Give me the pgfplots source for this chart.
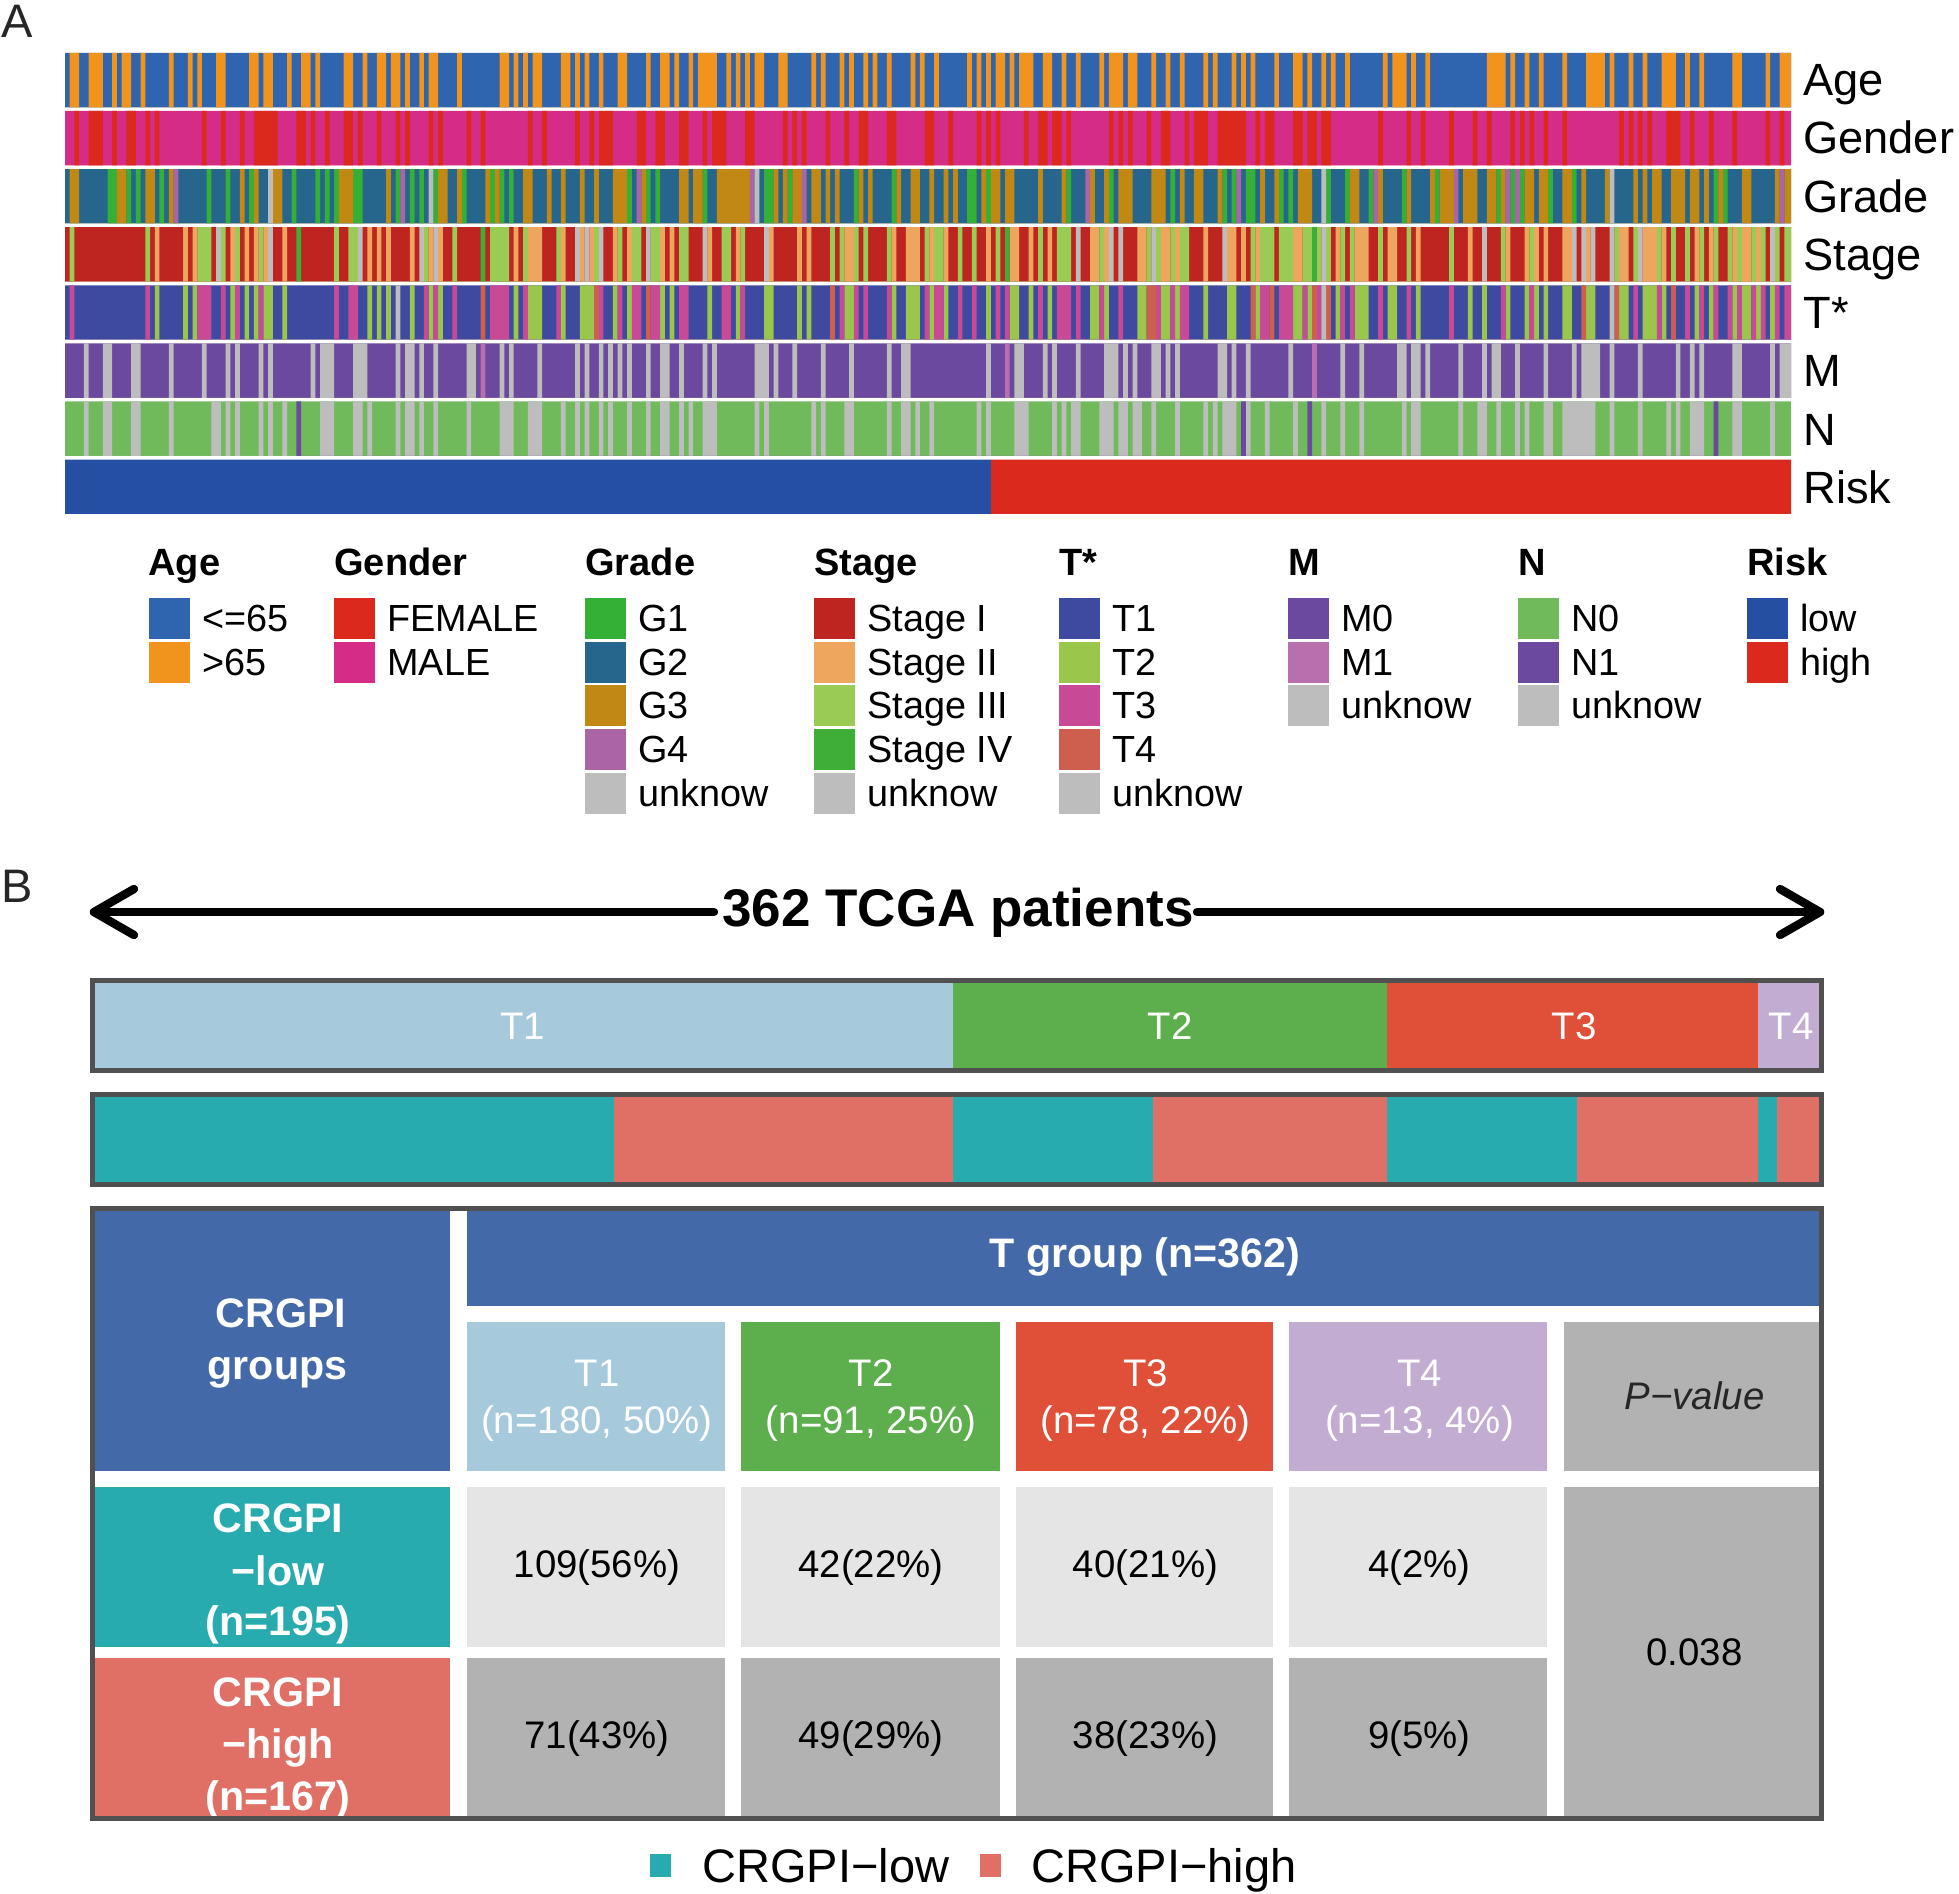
\documentclass[border=0pt]{standalone}
\usepackage{fontspec}
\setmainfont{Liberation Sans}
\usepackage{pgfplots}
\pgfplotsset{compat=1.18}
\usetikzlibrary{calc}

% panel A colours
\definecolor{ageA}{HTML}{2F64AE}\definecolor{ageB}{HTML}{F1941D}
\definecolor{female}{HTML}{DB291E}\definecolor{male}{HTML}{D52C88}
\definecolor{gA}{HTML}{33B035}\definecolor{gB}{HTML}{26668C}
\definecolor{gC}{HTML}{C28814}\definecolor{gD}{HTML}{AB65A6}
\definecolor{sA}{HTML}{BF2520}\definecolor{sB}{HTML}{EEA55E}
\definecolor{sC}{HTML}{9ACB55}\definecolor{sD}{HTML}{3EAE36}
\definecolor{tA}{HTML}{3E49A0}\definecolor{tB}{HTML}{9AC64C}
\definecolor{tC}{HTML}{C84A96}\definecolor{tD}{HTML}{CE5F4F}
\definecolor{mA}{HTML}{6A499E}\definecolor{mB}{HTML}{B86FAD}
\definecolor{nA}{HTML}{70BA5B}\definecolor{unk}{HTML}{BDBDBD}
\definecolor{riskL}{HTML}{254FA2}\definecolor{riskH}{HTML}{DB291E}
% panel B colours
\definecolor{bA}{HTML}{A6CADC}\definecolor{bB}{HTML}{5DAE4C}
\definecolor{bC}{HTML}{E05038}\definecolor{bD}{HTML}{C3ACD2}
\definecolor{low}{HTML}{27ABAE}\definecolor{high}{HTML}{E07066}
\definecolor{bord}{HTML}{505050}\definecolor{head}{HTML}{4369A9}
\definecolor{lgrey}{HTML}{E5E5E5}\definecolor{dgrey}{HTML}{B2B2B2}

% runs of patients s/e of one category in a track
\newcommand{\runs}[2]{%
  \gdef\pts{}%
  \foreach \st/\en in {#2} {\xdef\pts{\pts(\st,1)(\en,0)}}%
  \edef\tmp{\noexpand\addplot[const plot,fill=#1,draw=none] coordinates {\pts} \noexpand\closedcycle;}%
  \tmp}

\pgfplotsset{
  track/.style={at={(32.5pt,#1)},anchor=south west,scale only axis,hide axis,
    width=863pt,height=27.2pt,xmin=0,xmax=365.4,ymin=0,ymax=1},
  onebar/.style={at={(47.5pt,#1)},anchor=south west,scale only axis,hide axis,
    width=862.6pt,height=42.5pt,xmin=0,xmax=362,ymin=-0.5,ymax=0.5,
    xbar stacked,bar width=42.5pt},
}

% filled box in page pixels
\newcommand{\cell}[5]{\addplot[fill=#5,draw=none] coordinates {(#1,#2)(#3,#2)(#3,#4)(#1,#4)} -- cycle;}
\newcommand{\frm}[4]{\addplot[draw=bord,line width=2.5pt,line join=miter] coordinates {(#1,#2)(#3,#2)(#3,#4)(#1,#4)} -- cycle;}
% text: size, anchor, colour, x, y, string
\newcommand{\tx}[6]{\node[anchor=#2,text=#3,inner sep=0pt,font=\fontsize{#1}{#1}\selectfont] at (axis cs:#4,#5) {#6};}
\newcommand{\legitem}[4]{\cell{#1}{#2-20.5}{#1+41}{#2+20.5}{#3}\tx{18.9}{base west}{black}{#1+53}{#2+13.5}{#4}}

\begin{document}
\begin{tikzpicture}
\path[use as bounding box] (0,0) rectangle (979.5pt,947pt);

% --- panel A tracks
\begin{axis}[track=893.35pt]
\runs{ageA}{0/365.4}
\runs{ageB}{1/3,5/8,10/11,12/14,16/17,22/23,26/27,28/29,32/34,39/41,42/44,47/48,50/52,53/54,59/61,63/64,66/68,69/71,72/73,75/76,77/79,83/84,92/94,95/96,97/98,99/101,105/107,108/109,110/111,113/114,117/119,123/124,126/128,129/130,132/133,134/138,140/141,142/143,144/145,146/148,151/153,158/159,160/161,164/165,166/167,169/170,171/172,174/175,179/180,181/182,184/185,191/192,193/194,195/196,197/199,200/201,202/205,207/209,211/212,214/215,219/220,221/224,225/227,230/231,233/234,236/237,241/242,243/244,247/248,249/250,251/252,256/257,260/262,263/264,266/267,268/269,271/272,279/280,281/284,285/286,288/289,301/305,306/307,309/310,312/313,317/318,322/326,327/328,331/332,334/335,338/341,343/344,346/347,353/355,360/361,363/365.4}
\end{axis}

\begin{axis}[track=864.3pt]
\runs{male}{0/365.4}
\runs{female}{2/3,5/8,10/11,13/15,17/18,19/20,29/30,33/34,37/38,40/45,49/51,52/53,55/56,59/61,62/63,66/67,70/71,72/73,77/78,79/80,85/86,88/89,98/99,101/102,108/109,111/112,113/116,121/123,125/127,130/132,135/136,137/140,144/146,152/153,154/155,156/157,161/162,165/166,168/170,174/176,182/184,187/188,193/194,195/196,197/198,203/204,206/208,209/211,212/213,221/222,223/224,225/226,229/230,232/234,237/238,239/242,244/250,252/253,254/256,260/262,263/265,266/268,278/279,284/285,287/288,293/294,298/299,301/302,306/307,308/309,310/311,313/314,317/318,329/330,331/332,333/334,335/336,339/342,344/345,348/349,353/354,360/361,363/364}
\end{axis}

\begin{axis}[track=835.25pt]
\runs{gB}{0/365.4}
\runs{gA}{9/11,13/14,15/16,20/21,30/31,34/35,39/40,48/49,53/54,55/56,57/58,61/63,70/71,73/74,75/76,78/79,84/85,90/91,92/93,94/95,119/120,123/124,125/126,135/136,148/150,153/154,167/168,175/176,191/193,195/196,212/213,221/222,234/235,245/246,247/248,250/252,257/258,259/260,267/268,271/272,276/277,283/284,290/291,303/304,306/307,308/309,314/315,319/320,349/350,351/352}
\runs{gC}{1/3,11/13,17/19,22/23,37/38,40/41,44/46,58/61,68/69,79/81,83/84,89/90,91/92,97/99,102/103,105/106,109/110,112/113,116/119,122/123,130/132,133/135,138/145,150/151,152/153,154/156,158/160,161/162,163/164,168/169,170/171,176/177,179/181,183/184,186/187,188/189,194/195,196/198,199/201,206/207,211/212,217/218,220/221,223/226,230/233,236/237,239/241,244/245,253/254,256/257,261/264,272/274,278/279,284/285,289/290,291/294,296/299,301/303,304/305,309/311,312/314,317/319,321/322,326/327,332/333,334/335,336/338,340/343,344/346,347/348,350/351,355/357,362/363,364/365.4}
\runs{gD}{23/24,71/72,121/122,145/146,156/157,216/217,248/249,277/278,294/295,305/306,307/308,363/364}
\runs{unk}{43/44,77/78,146/147,266/267,327/328}
\end{axis}

\begin{axis}[track=806.2pt]
\runs{sA}{0/365.4}
\runs{sB}{19/20,25/26,27/28,35/36,38/39,40/41,42/43,46/47,64/65,66/67,68/69,73/74,77/78,79/80,95/96,98/101,105/106,109/110,111/112,116/117,119/120,126/127,128/129,136/137,142/143,149/150,155/156,157/158,165/167,175/176,178/181,183/184,186/187,195/196,200/202,204/205,208/209,217/219,220/221,227/229,232/234,235/236,241/242,246/248,249/250,252/253,260/262,269/270,273/276,280/282,286/287,297/298,305/306,309/310,311/312,313/314,317/319,322/323,329/331,334/337,338/339,345/346,348/349,353/354,355/357,358/359}
\runs{sC}{1/2,17/18,28/31,33/34,36/37,41/42,57/58,60/62,76/77,82/83,90/94,97/98,104/105,112/113,117/118,120/122,124/126,130/132,139/141,143/144,162/163,164/165,167/168,169/170,174/175,182/183,184/186,189/190,192/193,197/198,206/207,210/213,219/220,229/230,231/232,234/235,236/238,251/252,253/256,257/260,262/264,265/266,267/268,270/271,272/273,278/279,284/285,293/294,304/305,310/311,328/329,332/333,337/338,340/341,343/344,346/347,349/350,352/353,354/355,357/358,359/360,362/363,364/365.4}
\runs{sD}{49/50,88/89,199/200,264/265}
\runs{unk}{32/33,43/44,62/63,75/76,78/79,108/109,110/111,113/114,123/124,135/136,148/149,214/215,221/222,223/224,230/231,245/246,266/267,300/301,319/320,321/322,323/324,327/328,333/334,361/362}
\end{axis}

\begin{axis}[track=777.15pt]
\runs{tA}{0/365.4}
\runs{tB}{19/20,25/26,27/28,35/36,38/39,40/41,42/44,46/47,64/65,66/67,68/69,73/74,77/78,79/80,95/96,98/101,105/106,109/112,116/117,119/120,126/127,128/129,136/137,142/143,148/150,155/156,157/158,165/167,175/176,178/181,183/184,186/187,195/196,200/202,204/205,208/209,217/219,220/221,227/229,232/234,235/236,241/242,246/248,252/253,260/262,263/264,269/270,273/276,280/282,286/287,297/298,300/301,305/306,309/310,311/312,313/314,317/319,322/324,329/331,334/337,338/339,345/346,348/349,353/354,355/357,358/359,361/362}
\runs{tC}{1/2,17/18,28/31,33/34,36/37,41/42,57/58,60/62,76/77,78/79,82/83,90/94,97/98,104/105,113/114,117/118,120/122,124/126,130/132,139/141,143/144,164/165,167/168,169/170,174/175,182/183,184/186,189/190,192/193,197/198,199/200,206/207,210/213,214/215,219/220,223/224,231/232,234/235,236/238,253/255,257/260,262/263,265/266,270/271,272/273,278/279,284/285,293/294,304/305,310/311,332/333,337/338,343/344,346/347,349/350,352/353,354/355,357/358,359/360,362/363,364/365.4}
\runs{tD}{88/89,112/113,123/124,162/163,229/231,251/252,255/256,264/265,267/268,321/322,328/329,340/341}
\runs{unk}{70/71,266/267,327/328}
\end{axis}

\begin{axis}[track=748.1pt]
\runs{mA}{0/365.4}
\runs{unk}{4/5,8/10,14/16,22/23,29/30,34/35,36/37,41/42,43/44,52/53,54/57,61/64,70/71,72/74,75/76,78/79,85/87,92/93,94/95,100/101,108/109,110/111,113/114,115/116,117/118,119/120,123/124,126/128,130/131,135/136,137/138,146/149,150/151,154/155,160/161,166/167,174/175,177/179,195/196,201/203,207/208,209/210,214/215,220/223,224/225,226/227,230/232,233/234,235/236,244/246,247/248,250/251,259/260,270/271,274/275,282/284,285/287,288/289,295/296,300/301,302/304,307/308,313/314,319/320,321/325,327/328,333/334,341/342,344/345,346/347,353/355,361/362,363/365.4}
\runs{mB}{88/89,199/200,264/265}
\end{axis}

\begin{axis}[track=719.05pt]
\runs{nA}{0/365.4}
\runs{unk}{4/5,8/10,14/16,22/23,31/33,34/35,36/37,41/42,43/44,46/47,54/57,61/63,64/65,70/71,72/74,75/76,78/79,85/86,92/95,98/101,105/106,108/109,110/111,113/114,115/116,119/120,123/124,126/128,130/131,132/133,135/138,146/147,148/149,158/159,160/161,165/167,174/175,177/179,180/181,183/184,193/194,195/196,201/204,209/210,211/212,213/215,219/222,223/225,226/228,230/231,235/236,241/242,243/244,245/248,250/251,254/255,260/261,266/267,270/271,274/275,283/284,285/287,295/296,299/301,303/304,307/308,309/310,313/315,317/324,327/328,333/334,339/340,341/342,344/347,353/355,361/362}
\runs{mA}{49/50,249/250,263/264,349/350}
\end{axis}

\begin{axis}[track=690pt]
\runs{riskL}{0/196}
\runs{riskH}{196/365.4}
\end{axis}

% --- panel B: the 362 patients by T stage, then split by CRGPI group
\begin{axis}[onebar=413pt]
\addplot[fill=bA,draw=none] coordinates {(180,0)};
\addplot[fill=bB,draw=none] coordinates {(91,0)};
\addplot[fill=bC,draw=none] coordinates {(78,0)};
\addplot[fill=bD,draw=none] coordinates {(13,0)};
\end{axis}

\begin{axis}[onebar=356pt]
\addplot[fill=low,draw=none] coordinates {(109,0)};
\addplot[fill=high,draw=none] coordinates {(71,0)};
\addplot[fill=low,draw=none] coordinates {(42,0)};
\addplot[fill=high,draw=none] coordinates {(49,0)};
\addplot[fill=low,draw=none] coordinates {(40,0)};
\addplot[fill=high,draw=none] coordinates {(38,0)};
\addplot[fill=low,draw=none] coordinates {(4,0)};
\addplot[fill=high,draw=none] coordinates {(9,0)};
\end{axis}

% --- everything else, in page pixels
\begin{axis}[at={(0,0)},anchor=south west,scale only axis,hide axis,clip=false,
  width=979.5pt,height=947pt,xmin=0,xmax=1959,ymin=0,ymax=1894,y dir=reverse]

\tx{23.5}{base}{black!85}{17}{38}{A}
\tx{23.5}{base}{black!85}{17}{902}{B}

% track labels
\tx{22.6}{base west}{black}{1803}{96}{Age}
\tx{22.6}{base west}{black}{1803}{154}{Gender}
\tx{22.6}{base west}{black}{1803}{212.5}{Grade}
\tx{22.6}{base west}{black}{1803}{270.5}{Stage}
\tx{22.6}{base west}{black}{1803}{328.5}{T*}
\tx{22.6}{base west}{black}{1803}{386.5}{M}
\tx{22.6}{base west}{black}{1803}{445}{N}
\tx{22.6}{base west}{black}{1803}{503}{Risk}

% legends of panel A
\tx{19}{base west}{black}{148}{575}{\bfseries Age}
\legitem{149}{618}{ageA}{<=65}
\legitem{149}{662}{ageB}{>65}
\tx{19}{base west}{black}{334}{575}{\bfseries Gender}
\legitem{334}{618}{female}{FEMALE}
\legitem{334}{662}{male}{MALE}
\tx{19}{base west}{black}{585}{575}{\bfseries Grade}
\legitem{585}{618}{gA}{G1}
\legitem{585}{662}{gB}{G2}
\legitem{585}{705}{gC}{G3}
\legitem{585}{749}{gD}{G4}
\legitem{585}{793}{unk}{unknow}
\tx{19}{base west}{black}{814}{575}{\bfseries Stage}
\legitem{814}{618}{sA}{Stage I}
\legitem{814}{662}{sB}{Stage II}
\legitem{814}{705}{sC}{Stage III}
\legitem{814}{749}{sD}{Stage IV}
\legitem{814}{793}{unk}{unknow}
\tx{19}{base west}{black}{1059}{575}{\bfseries T*}
\legitem{1059}{618}{tA}{T1}
\legitem{1059}{662}{tB}{T2}
\legitem{1059}{705}{tC}{T3}
\legitem{1059}{749}{tD}{T4}
\legitem{1059}{793}{unk}{unknow}
\tx{19}{base west}{black}{1288}{575}{\bfseries M}
\legitem{1288}{618}{mA}{M0}
\legitem{1288}{662}{mB}{M1}
\legitem{1288}{705}{unk}{unknow}
\tx{19}{base west}{black}{1518}{575}{\bfseries N}
\legitem{1518}{618}{nA}{N0}
\legitem{1518}{662}{mA}{N1}
\legitem{1518}{705}{unk}{unknow}
\tx{19}{base west}{black}{1747}{575}{\bfseries Risk}
\legitem{1747}{618}{riskL}{low}
\legitem{1747}{662}{riskH}{high}

% arrow with title
\addplot[black,line width=4.2pt,line cap=round,line join=round] coordinates {(714,912)(94,912)};
\addplot[black,line width=4.2pt,line cap=round,line join=round] coordinates {(134,889)(94,912)(134,935)};
\addplot[black,line width=4.2pt,line cap=round,line join=round] coordinates {(1197,912)(1820,912)};
\addplot[black,line width=4.2pt,line cap=round,line join=round] coordinates {(1780,889)(1820,912)(1780,935)};
\tx{26.5}{base}{black}{958}{926}{\bfseries 362 TCGA patients}

% labels of the top bar
\tx{19.2}{base}{white}{522.5}{1039}{T1}
\tx{19.2}{base}{white}{1170}{1039}{T2}
\tx{19.2}{base}{white}{1574}{1039}{T3}
\tx{19.2}{base}{white}{1791}{1039}{T4}

% table
\cell{95}{1211}{450}{1470.5}{head}
\cell{467}{1211}{1819}{1306}{head}
\cell{467}{1322}{725}{1470.5}{bA}
\cell{741}{1322}{999.5}{1470.5}{bB}
\cell{1016}{1322}{1273}{1470.5}{bC}
\cell{1289}{1322}{1547}{1470.5}{bD}
\cell{1564}{1322}{1819}{1470.5}{dgrey}
\cell{95}{1487}{450}{1647}{low}
\cell{95}{1658}{450}{1815.5}{high}
\cell{467}{1487}{725}{1647}{lgrey}
\cell{741}{1487}{999.5}{1647}{lgrey}
\cell{1016}{1487}{1273}{1647}{lgrey}
\cell{1289}{1487}{1547}{1647}{lgrey}
\cell{467}{1658}{725}{1815.5}{dgrey}
\cell{741}{1658}{999.5}{1815.5}{dgrey}
\cell{1016}{1658}{1273}{1815.5}{dgrey}
\cell{1289}{1658}{1547}{1815.5}{dgrey}
\cell{1564}{1487}{1819}{1815.5}{dgrey}

\tx{20.6}{base}{white}{1145}{1267}{\bfseries T group (n=362)}
\tx{20.6}{base}{white}{281}{1327}{\bfseries CRGPI}
\tx{20.6}{base}{white}{277.5}{1379}{\bfseries groups}
\tx{20.6}{base}{white}{278}{1532}{\bfseries CRGPI}
\tx{20.6}{base}{white}{278}{1585}{\bfseries −low}
\tx{20.6}{base}{white}{278}{1635}{\bfseries (n=195)}
\tx{20.6}{base}{white}{278}{1706}{\bfseries CRGPI}
\tx{20.6}{base}{white}{278}{1758}{\bfseries −high}
\tx{20.6}{base}{white}{278}{1810}{\bfseries (n=167)}

\tx{19.2}{base}{white}{597}{1386}{T1}
\tx{19.2}{base}{white}{597}{1433.5}{(n=180, 50\%)}
\tx{19.2}{base}{white}{871}{1386}{T2}
\tx{19.2}{base}{white}{871}{1433.5}{(n=91, 25\%)}
\tx{19.2}{base}{white}{1145.5}{1386}{T3}
\tx{19.2}{base}{white}{1145.5}{1433.5}{(n=78, 22\%)}
\tx{19.2}{base}{white}{1419.5}{1386}{T4}
\tx{19.2}{base}{white}{1419.5}{1433.5}{(n=13, 4\%)}
\tx{19.2}{base}{black!85}{1694.5}{1409}{\itshape P−value}

\tx{19.2}{base}{black}{597}{1577}{109(56\%)}
\tx{19.2}{base}{black}{871}{1577}{42(22\%)}
\tx{19.2}{base}{black}{1145.5}{1577}{40(21\%)}
\tx{19.2}{base}{black}{1419.5}{1577}{4(2\%)}
\tx{19.2}{base}{black}{597}{1748}{71(43\%)}
\tx{19.2}{base}{black}{871}{1748}{49(29\%)}
\tx{19.2}{base}{black}{1145.5}{1748}{38(23\%)}
\tx{19.2}{base}{black}{1419.5}{1748}{9(5\%)}
\tx{19.2}{base}{black}{1694.5}{1665}{0.038}

% frames
\frm{92.5}{980.5}{1821.5}{1070.5}
\frm{92.5}{1094.5}{1821.5}{1184.5}
\frm{92.5}{1208.5}{1821.5}{1818}

% bottom legend
\cell{650}{1854}{671}{1877}{low}
\tx{23.5}{base west}{black}{702}{1882}{CRGPI−low}
\cell{980}{1854}{1001}{1877}{high}
\tx{23.5}{base west}{black}{1031}{1882}{CRGPI−high}
\end{axis}
\end{tikzpicture}
\end{document}
